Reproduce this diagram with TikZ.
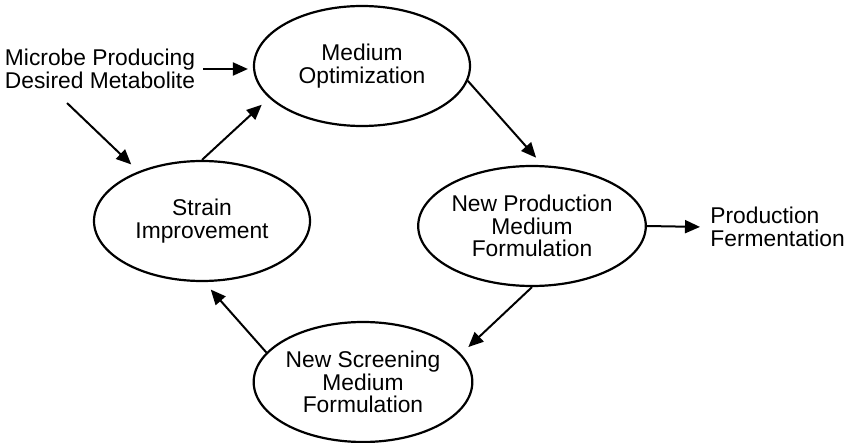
\documentclass[tikz,border=0pt]{standalone}
\usepackage{fontspec}
\setmainfont{Liberation Sans}
\usetikzlibrary{arrows.meta,shapes.geometric}
\tikzset{
    stage/.style={ellipse,draw,line width=1.1pt,minimum width=108pt,
                  minimum height=60pt,inner sep=0pt,align=center},
    flow/.style={->,line width=1pt,shorten >=5pt}
}
\begin{document}
\begin{tikzpicture}[x=0.5pt,y=-0.5pt,font=\fontsize{11.4}{11.3}\selectfont]
\useasboundingbox (0,0) rectangle (845,443);
\begin{scope}[every node/.style={stage}]
    \node (optim)  at (362,66)  {Medium\\Optimization};
    \node (strain) at (202,221) {Strain\\Improvement};
    \node (prod)   at (532,226) {New Production\\Medium\\Formulation};
    \node (screen) at (363,382) {New Screening\\Medium\\Formulation};
\end{scope}
\node[align=center,inner xsep=4pt,inner ysep=7pt] (microbe) at (100,69)
    {Microbe Producing\\Desired Metabolite};
\node[align=left,anchor=west,inner sep=3pt] (ferment) at (704,227)
    {Production\\Fermentation};
\begin{scope}[>={Triangle[length=7.5pt,width=6.5pt]}]
\draw [flow,shorten >=2.5pt] (microbe.east) -- (microbe.east -| optim.west);
\draw [flow] (microbe.-134) -- (strain.142);
\draw [flow] (strain.north) -- (optim.199);
\draw [flow] (optim.-8) -- (prod.80);
\draw [flow,shorten >=2pt] (prod.east) -- (ferment.west);
\draw [flow] (prod.south) -- (screen.16);
\draw [flow] (screen.163) -- (strain.-88);
\end{scope}
\end{tikzpicture}
\end{document}
